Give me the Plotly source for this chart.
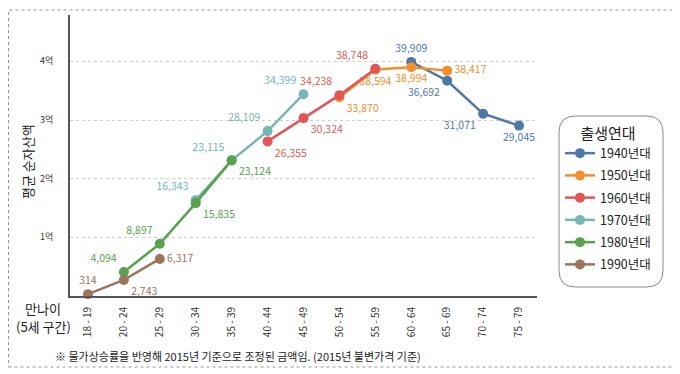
import plotly.graph_objects as go

ages = ["18 - 19", "20 - 24", "25 - 29", "30 - 34", "35 - 39", "40 - 44", "45 - 49",
        "50 - 54", "55 - 59", "60 - 64", "65 - 69", "70 - 74", "75 - 79"]

s1940_x = ["60 - 64", "65 - 69", "70 - 74", "75 - 79"]
s1940_y = [39909, 36692, 31071, 29045]
s1950_x = ["50 - 54", "55 - 59", "60 - 64", "65 - 69"]
s1950_y = [33870, 38594, 38994, 38417]
s1960_x = ["40 - 44", "45 - 49", "50 - 54", "55 - 59"]
s1960_y = [26355, 30324, 34238, 38748]
s1970_x = ["30 - 34", "35 - 39", "40 - 44", "45 - 49"]
s1970_y = [16343, 23115, 28109, 34399]
s1980_x = ["20 - 24", "25 - 29", "30 - 34", "35 - 39"]
s1980_y = [4094, 8897, 15835, 23124]
s1990_x = ["18 - 19", "20 - 24", "25 - 29"]
s1990_y = [314, 2743, 6317]

y_tickvals = [10000, 20000, 30000, 40000]
y_ticktext = ["1억", "2억", "3억", "4억"]

series = [
    ("1940년대", s1940_x, s1940_y, "#4e79a7", ["top center", "bottom left", "bottom left", "bottom center"]),
    ("1950년대", s1950_x, s1950_y, "#f28e2b", ["bottom right", "bottom center", "bottom center", "middle right"]),
    ("1960년대", s1960_x, s1960_y, "#e15759", ["bottom right", "bottom right", "top left", "top left"]),
    ("1970년대", s1970_x, s1970_y, "#76b7b2", ["top left", "top left", "top left", "top left"]),
    ("1980년대", s1980_x, s1980_y, "#59a14f", ["top left", "top left", "bottom right", "bottom right"]),
    ("1990년대", s1990_x, s1990_y, "#9c755f", ["top center", "bottom right", "middle right"]),
]

FONT = "Noto Sans CJK KR"
fig = go.Figure()
for i, (name, xs, ys, col, pos) in enumerate(series):
    fig.add_trace(go.Scatter(
        x=xs, y=ys, name=name, mode="lines+markers+text", legendgroup=f"g{i}",
        line=dict(color=col, width=2.5),
        marker=dict(color=col, size=10),
        text=[f"{v:,}" for v in ys], textposition=pos,
        textfont=dict(color=col, size=10.5, family=FONT),
        cliponaxis=False,
    ))

# page body has an 8px margin: work in reference-picture pixels, shifted by OFF
OFF = 8
W, H = 680 - OFF, 374 - OFF
L, T = 70 - OFF, 15 - OFF
pw, ph = 467, 281
R, B = W - L - pw, H - T - ph


def px(x):
    return (x - OFF - L) / pw


def py(y):
    return (T + ph - (y - OFF)) / ph


fig.update_layout(
    width=W, height=H,
    margin=dict(l=L, r=R, t=T, b=B, autoexpand=False),
    paper_bgcolor="white", plot_bgcolor="white",
    font=dict(family=FONT, color="#333"),
    showlegend=True,
    legend=dict(
        title=dict(text="출생연대", font=dict(size=15, color="#222"), side="top center"),
        x=px(560), y=py(119), xanchor="left", yanchor="top",
        font=dict(size=12.5, color="#222"),
        bgcolor="rgba(0,0,0,0)", borderwidth=0,
        itemwidth=30, tracegroupgap=3,
    ),
    xaxis=dict(
        type="category", categoryorder="array", categoryarray=ages,
        range=[-0.5, 12.5], tickangle=-90, tickfont=dict(size=10, color="#333"),
        showline=True, linecolor="#555", linewidth=2, showgrid=False,
        ticks="", ticklabelstandoff=5,
    ),
    yaxis=dict(
        range=[0, 47900], tickvals=y_tickvals, ticktext=y_ticktext,
        tickfont=dict(size=9, color="#333"),
        showline=True, linecolor="#555", linewidth=2,
        showgrid=True, gridcolor="#cfcfcf", griddash="dot", gridwidth=1,
        zeroline=False, ticks="", ticklabelstandoff=13,
    ),
)

fig.add_annotation(text="평균 순자산액", x=px(27), y=py(162), xref="paper", yref="paper",
                   xanchor="center", yanchor="middle",
                   textangle=-90, showarrow=False, font=dict(size=13, color="#222"))
fig.add_annotation(text="만나이", x=px(43), y=py(308), xref="paper", yref="paper",
                   xanchor="center", yanchor="middle",
                   showarrow=False, font=dict(size=13, color="#222"))
fig.add_annotation(text="(5세 구간)", x=px(43), y=py(326), xref="paper", yref="paper",
                   xanchor="center", yanchor="middle",
                   showarrow=False, font=dict(size=13, color="#222"))
fig.add_annotation(text="※ 물가상승률을 반영해 2015년 기준으로 조정된 금액임. (2015년 불변가격 기준)",
                   x=px(238), y=py(356), xref="paper", yref="paper",
                   xanchor="center", yanchor="middle",
                   showarrow=False, font=dict(size=11, color="#222"))

# rounded legend box
x0, x1, y0, y1, r = px(559), px(663), py(287), py(116), 0.035
rx, ry = r, r * pw / ph
path = (f"M {x0+rx},{y0} L {x1-rx},{y0} Q {x1},{y0} {x1},{y0+ry} "
        f"L {x1},{y1-ry} Q {x1},{y1} {x1-rx},{y1} L {x0+rx},{y1} "
        f"Q {x0},{y1} {x0},{y1-ry} L {x0},{y0+ry} Q {x0},{y0} {x0+rx},{y0} Z")
fig.add_shape(type="path", path=path, xref="paper", yref="paper",
              line=dict(color="#888", width=1))
# dotted outer frame
fig.add_shape(type="rect", xref="paper", yref="paper",
              x0=px(8.5), x1=px(675), y0=py(367), y1=py(10),
              line=dict(color="#999", width=1, dash="dot"))

fig.write_html("out.html")
